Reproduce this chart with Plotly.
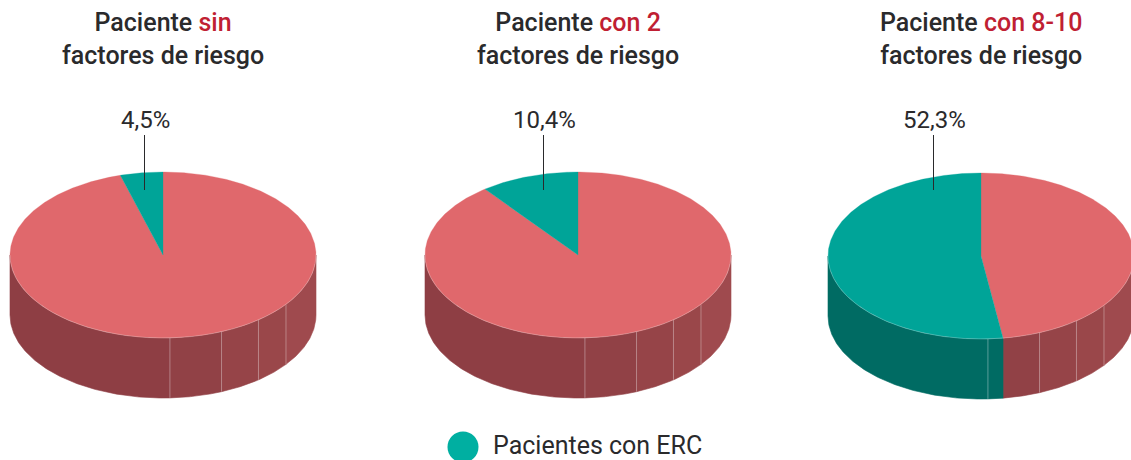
import numpy as np
import plotly.graph_objects as go

# --- data ---
panel_prefix = ["Paciente ", "Paciente ", "Paciente "]
panel_highlight = ["sin", "con 2", "con 8-10"]
panel_second_line = ["factores de riesgo", "factores de riesgo", "factores de riesgo"]
erc_share = [4.5, 10.4, 52.3]
share_labels = ["4,5%", "10,4%", "52,3%"]
legend_label = "Pacientes con ERC"
wall_seams_deg = [126.5, 141.4, 157.5, 177.4]

# --- style / layout ---
W, H = 1131, 460
RED, TEAL, TEAL_SIDE = "#E0686C", "#00A498", "#006B63"
RED_SIDES = ["#9F4A4E", "#9A474A", "#964448", "#914146", "#8E3E44"]
HILITE, INK = "#C01F33", "#2A2A2C"
centers_x = [163, 578, 981]
centers_y = [255, 255, 256]
label_x = [145, 544.5, 934]
leader_x = [144.5, 543.5, 933.5]
title_x = [162.5, 577.5, 981]
RX, RY, DEPTH = 153, 83, 60


def pt(cx, cy, deg, dy=0):
    t = np.radians(deg)
    return cx + RX * np.sin(t), cy - RY * np.cos(t) + dy


def arc(a, b):
    n = max(2, int(abs(b - a) * 2))
    return np.linspace(a, b, n)


def poly(fig, xs, ys, color, line=0.6):
    fig.add_trace(go.Scatter(x=xs, y=ys, mode="lines", fill="toself", fillcolor=color,
                             line=dict(color=color, width=line), hoverinfo="skip", showlegend=False))


fig = go.Figure()
for cx, cy, share in zip(centers_x, centers_y, erc_share):
    split = 360 - share * 3.6  # clockwise angle from the top where the ERC slice starts
    bounds = [90] + wall_seams_deg + [270]
    for lo, hi, shade in zip(bounds[:-1], bounds[1:], RED_SIDES):
        for a, b, col in ((lo, min(hi, split), shade), (max(lo, split), hi, TEAL_SIDE)):
            if b <= a:
                continue
            th = arc(a, b)
            xt, yt = pt(cx, cy, th)
            xb, yb = pt(cx, cy, th, DEPTH)
            poly(fig, np.r_[xt, xb[::-1], xt[0]], np.r_[yt, yb[::-1], yt[0]], col)
    for s in wall_seams_deg:
        x0, y0 = pt(cx, cy, s)
        x1, y1 = pt(cx, cy, s, DEPTH)
        fig.add_trace(go.Scatter(x=[x0, x1], y=[y0, y1], mode="lines", hoverinfo="skip", showlegend=False,
                                 line=dict(color="rgba(255,255,255,0.33)", width=1)))
    # top face
    th = arc(0, split)
    xs, ys = pt(cx, cy, th)
    poly(fig, np.r_[cx, xs, cx], np.r_[cy, ys, cy], RED, 0.3)
    th = arc(split, 360)
    xs, ys = pt(cx, cy, th)
    poly(fig, np.r_[cx, xs, cx], np.r_[cy, ys, cy], TEAL, 0.3)
    th = arc(90, 270)
    xs, ys = pt(cx, cy, th)
    fig.add_trace(go.Scatter(x=xs, y=ys, mode="lines", hoverinfo="skip", showlegend=False,
                             line=dict(color="rgba(255,255,255,0.35)", width=0.7)))

# leader lines
for lx in leader_x:
    fig.add_trace(go.Scatter(x=[lx, lx], y=[135, 190], mode="lines", hoverinfo="skip", showlegend=False,
                             line=dict(color="#2A2A2C", width=1)))

# legend entry
fig.add_trace(go.Scatter(x=[463], y=[447], mode="markers", hoverinfo="skip", showlegend=False,
                         marker=dict(color="#00AFA1", size=31, symbol="circle", line=dict(width=0))))
fig.add_trace(go.Scatter(x=[493], y=[447.5], mode="text", text=[legend_label], textposition="middle right",
                         hoverinfo="skip", showlegend=False, cliponaxis=False,
                         textfont=dict(family="Roboto", size=25, color=INK)))

annotations = []
for tx, p, h, s in zip(title_x, panel_prefix, panel_highlight, panel_second_line):
    annotations.append(dict(x=tx, y=39, xref="x", yref="y", showarrow=False, align="center",
                            text=f'{p}<span style="color:{HILITE}">{h}</span><br>{s}',
                            font=dict(family="Roboto", size=25, color=INK, weight=500)))
for lx, lab in zip(label_x, share_labels):
    annotations.append(dict(x=lx, y=120, xref="x", yref="y", showarrow=False, text=lab,
                            font=dict(family="Roboto", size=24, color=INK)))

fig.update_layout(
    width=W, height=H, margin=dict(l=0, r=0, t=0, b=0),
    paper_bgcolor="white", plot_bgcolor="white",
    xaxis=dict(range=[0, W], visible=False, fixedrange=True),
    yaxis=dict(range=[H, 0], visible=False, fixedrange=True),
    annotations=annotations, showlegend=False,
)
fig.write_html("out.html", config=dict(displayModeBar=False),
               post_script="document.body.style.margin='0';document.documentElement.style.overflow='hidden';")
